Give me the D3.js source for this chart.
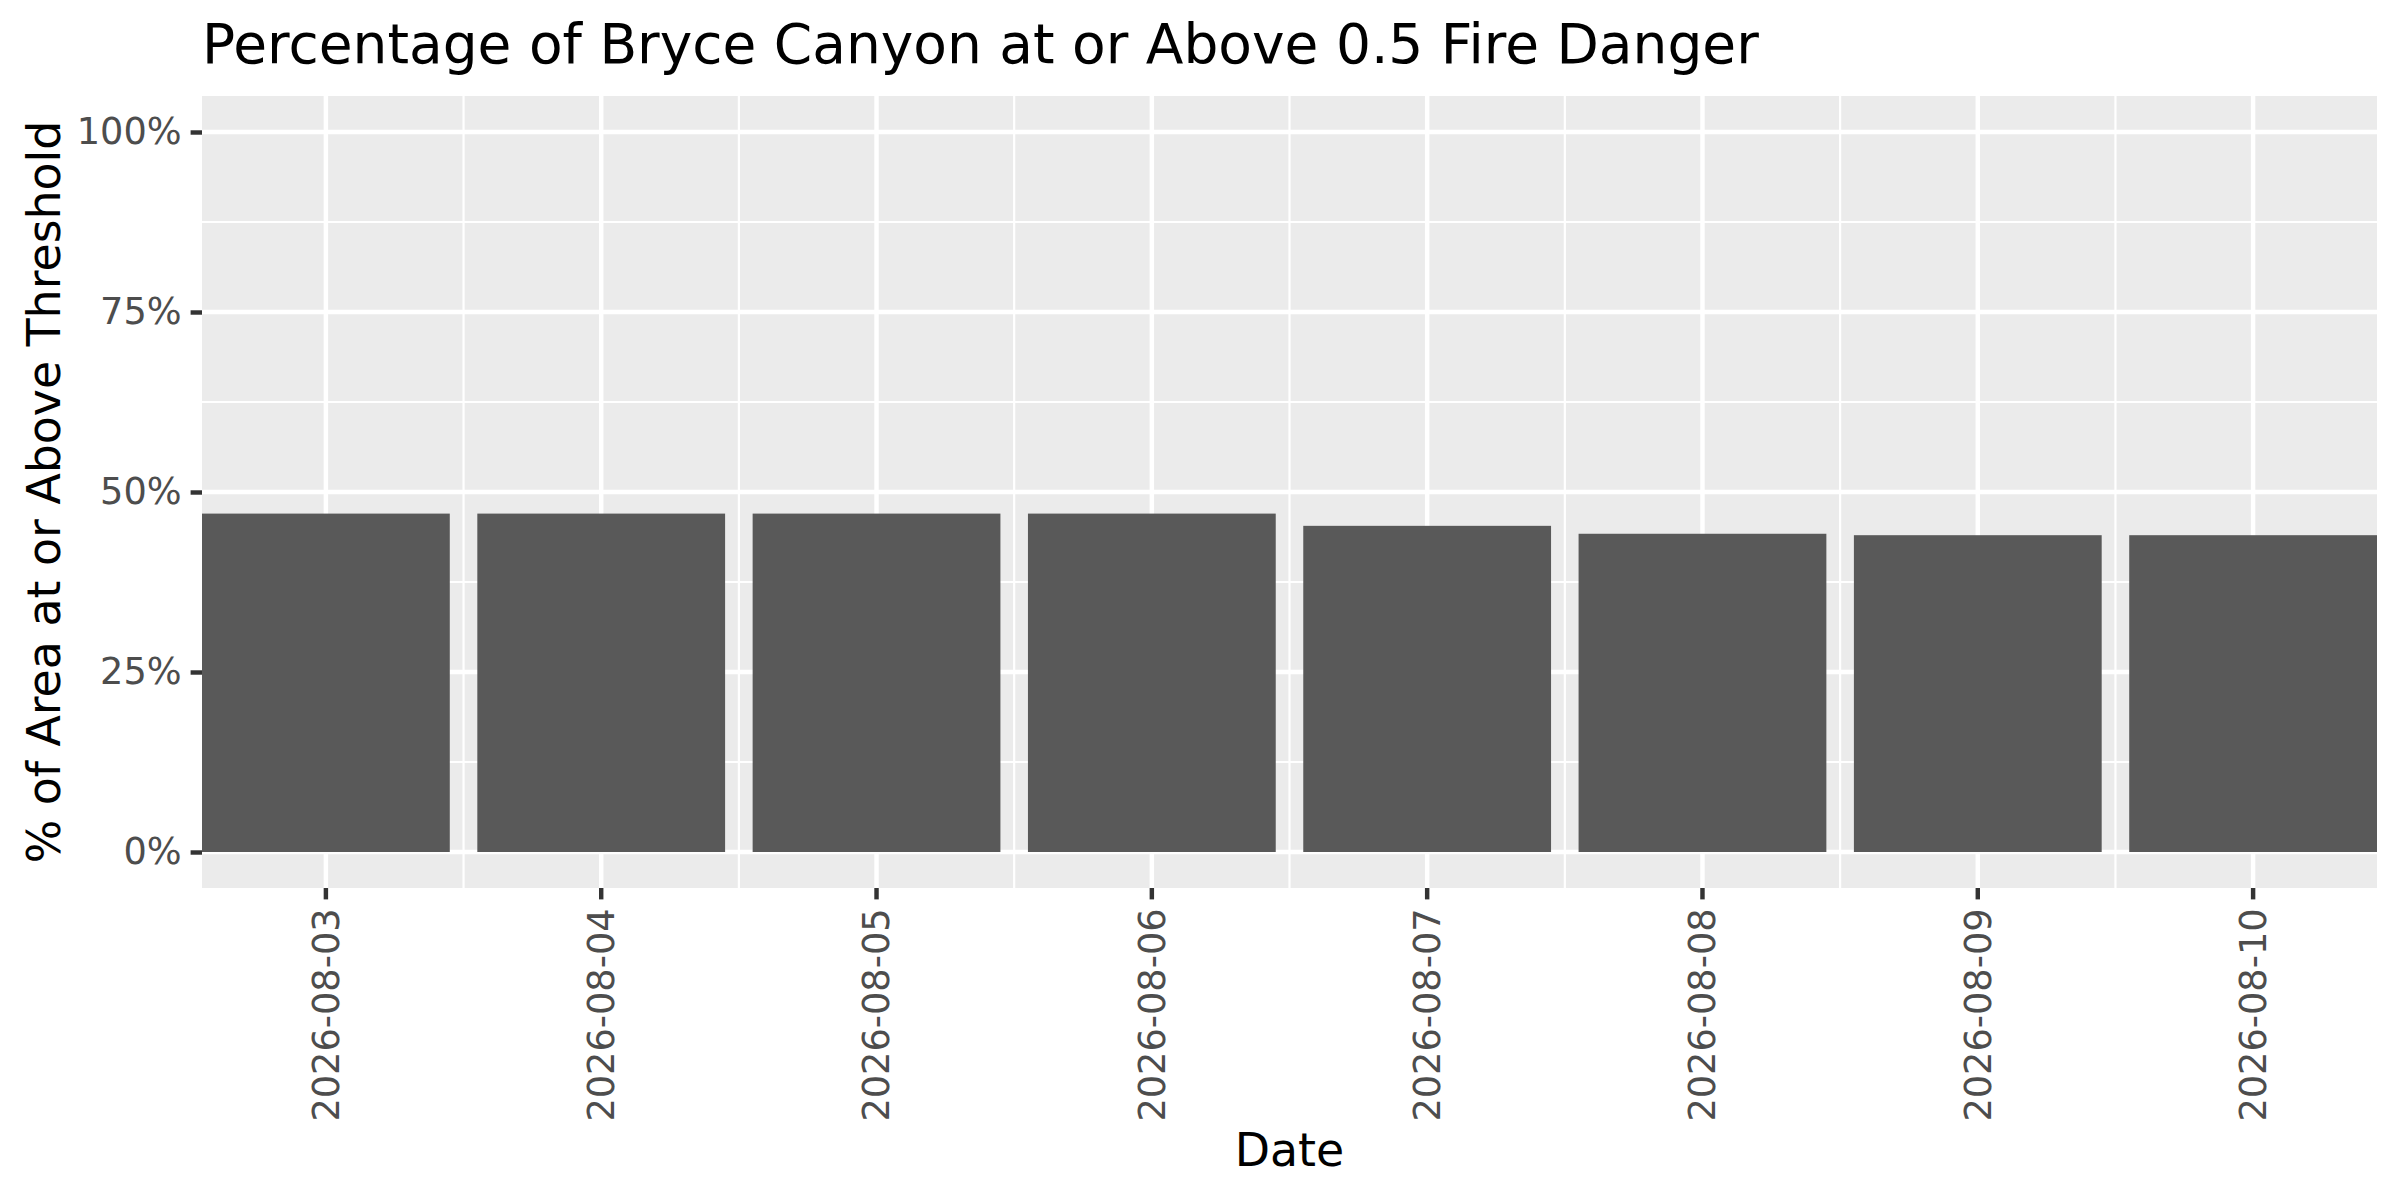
<!DOCTYPE html>
<html>
<head>
<meta charset="utf-8">
<script src="https://cdn.jsdelivr.net/npm/d3@7"></script>
<style>
  body { margin: 0; background: #fff; }
  text { font-family: "DejaVu Sans", sans-serif; }
</style>
</head>
<body>
<script>
// data
var dates  = ['2026-08-03', '2026-08-04', '2026-08-05', '2026-08-06',
              '2026-08-07', '2026-08-08', '2026-08-09', '2026-08-10'];
var shares = [0.470, 0.470, 0.470, 0.470, 0.453, 0.442, 0.440, 0.440];
var yTicks = [0, 0.25, 0.5, 0.75, 1];
var yTickLabels = ['0%', '25%', '50%', '75%', '100%'];
var yMinor = [0.125, 0.375, 0.625, 0.875];

var width = 2400, height = 1200;
var panel = {left: 202, right: 2377, top: 96, bottom: 888};

var svg = d3.select('body').append('svg')
  .attr('width', width).attr('height', height);

// ggplot style expansion: 5% on y, bars touching the panel edges on x
var y = d3.scaleLinear().domain([-0.05, 1.05]).range([panel.bottom, panel.top]);
var x = d3.scaleBand().domain(dates)
  .range([panel.left, panel.right])
  .paddingInner(0.1).paddingOuter(0);

var step = x.step();
function cx(d){ return x(d) + x.bandwidth() / 2; }

// panel background
svg.append('rect')
  .attr('x', panel.left).attr('y', panel.top)
  .attr('width', panel.right - panel.left)
  .attr('height', panel.bottom - panel.top)
  .attr('fill', '#EBEBEB');

var grid = svg.append('g').attr('stroke', '#fff');

// minor grid
grid.selectAll('line.ymin').data(yMinor).enter().append('line')
  .attr('x1', panel.left).attr('x2', panel.right)
  .attr('y1', y).attr('y2', y)
  .attr('stroke-width', 2.2);

grid.selectAll('line.xmin').data(dates.slice(1)).enter().append('line')
  .attr('x1', function(d){ return cx(d) - step / 2; })
  .attr('x2', function(d){ return cx(d) - step / 2; })
  .attr('y1', panel.top).attr('y2', panel.bottom)
  .attr('stroke-width', 2.2);

// major grid
grid.selectAll('line.ymaj').data(yTicks).enter().append('line')
  .attr('x1', panel.left).attr('x2', panel.right)
  .attr('y1', y).attr('y2', y)
  .attr('stroke-width', 4.45);

grid.selectAll('line.xmaj').data(dates).enter().append('line')
  .attr('x1', cx).attr('x2', cx)
  .attr('y1', panel.top).attr('y2', panel.bottom)
  .attr('stroke-width', 4.45);

// bars
svg.selectAll('rect.bar')
  .data(dates.map(function(d, i){ return {date: d, v: shares[i]}; }))
  .enter().append('rect')
  .attr('class', 'bar')
  .attr('x', function(d){ return x(d.date); })
  .attr('width', x.bandwidth())
  .attr('y', function(d){ return y(d.v); })
  .attr('height', function(d){ return y(0) - y(d.v); })
  .attr('fill', '#595959');

// y axis
var yAxis = svg.append('g')
  .attr('transform', 'translate(' + panel.left + ',0)')
  .call(d3.axisLeft(y).tickValues(yTicks)
    .tickFormat(function(d, i){ return yTickLabels[i]; })
    .tickSize(11.4).tickPadding(9));
yAxis.select('.domain').remove();
yAxis.selectAll('.tick line').attr('stroke', '#333333').attr('stroke-width', 4.45);
yAxis.selectAll('.tick text')
  .attr('fill', '#4D4D4D').style('font-size', '36.7px')
  .style('font-family', '"DejaVu Sans", sans-serif');

// x axis
var xAxis = svg.append('g')
  .attr('transform', 'translate(0,' + panel.bottom + ')')
  .call(d3.axisBottom(x).tickSize(11.4).tickPadding(9));
xAxis.select('.domain').remove();
xAxis.selectAll('.tick line').attr('stroke', '#333333').attr('stroke-width', 4.45);
xAxis.selectAll('.tick text')
  .attr('fill', '#4D4D4D').style('font-size', '36.7px')
  .style('font-family', '"DejaVu Sans", sans-serif')
  .attr('text-anchor', 'end')
  .attr('transform', 'rotate(-90)')
  .attr('x', -(11.4 + 9)).attr('y', 0).attr('dy', '0.35em');

// titles
svg.append('text')
  .attr('x', panel.left).attr('y', 63)
  .style('font-size', '55px').attr('fill', '#000')
  .text('Percentage of Bryce Canyon at or Above 0.5 Fire Danger');

svg.append('text')
  .attr('transform', 'translate(60,' + (panel.top + panel.bottom) / 2 + ') rotate(-90)')
  .attr('text-anchor', 'middle')
  .style('font-size', '45.8px').attr('fill', '#000')
  .text('% of Area at or Above Threshold');

svg.append('text')
  .attr('x', (panel.left + panel.right) / 2).attr('y', 1166)
  .attr('text-anchor', 'middle')
  .style('font-size', '45.8px').attr('fill', '#000')
  .text('Date');
</script>
</body>
</html>
